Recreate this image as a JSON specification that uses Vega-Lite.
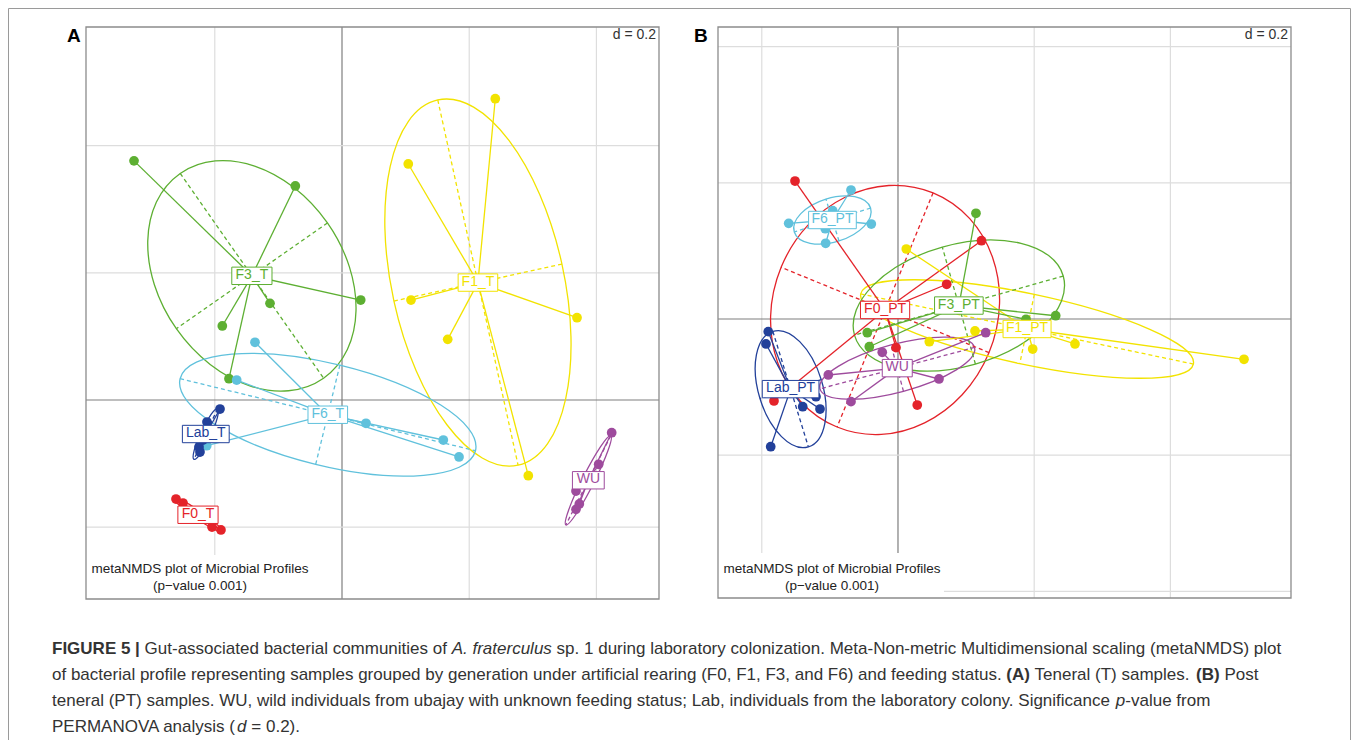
{
"$schema":"https://vega.github.io/schema/vega-lite/v6.json",
"width":1342,"height":732,
"autosize":{"type":"none"},
"padding":{"left":8,"top":8,"right":8,"bottom":0},
"background":"white",
"config":{"view":{"stroke":"#9a9a9a","strokeWidth":1},"font":"Liberation Sans"},
"datasets":{
"pointsA":[
{"group":"F3_T","gen":"F3","x":-0.327,"y":0.376},{"group":"F3_T","gen":"F3","x":-0.0734,"y":0.3365},{"group":"F3_T","gen":"F3","x":0.0294,"y":0.1572},{"group":"F3_T","gen":"F3","x":-0.1132,"y":0.152},{"group":"F3_T","gen":"F3","x":-0.1882,"y":0.1164},{"group":"F3_T","gen":"F3","x":-0.1777,"y":0.0335},
{"group":"F1_T","gen":"F1","x":0.1042,"y":0.3711},{"group":"F1_T","gen":"F1","x":0.241,"y":0.4737},{"group":"F1_T","gen":"F1","x":0.1085,"y":0.1572},{"group":"F1_T","gen":"F1","x":0.3695,"y":0.1294},{"group":"F1_T","gen":"F1","x":0.1662,"y":0.0954},{"group":"F1_T","gen":"F1","x":0.2929,"y":-0.119},
{"group":"F6_T","gen":"F6","x":-0.1368,"y":0.0907},{"group":"F6_T","gen":"F6","x":-0.1656,"y":0.0314},{"group":"F6_T","gen":"F6","x":0.0377,"y":-0.0366},{"group":"F6_T","gen":"F6","x":0.1593,"y":-0.0629},{"group":"F6_T","gen":"F6","x":0.184,"y":-0.0896},{"group":"F6_T","gen":"F6","x":-0.2127,"y":-0.0719},
{"group":"Lab_T","gen":"Lab","x":-0.1918,"y":-0.0142},{"group":"Lab_T","gen":"Lab","x":-0.2123,"y":-0.0346},{"group":"Lab_T","gen":"Lab","x":-0.2186,"y":-0.0629},{"group":"Lab_T","gen":"Lab","x":-0.2248,"y":-0.0739},{"group":"Lab_T","gen":"Lab","x":-0.2233,"y":-0.0818},
{"group":"F0_T","gen":"F0","x":-0.261,"y":-0.1557},{"group":"F0_T","gen":"F0","x":-0.25,"y":-0.162},{"group":"F0_T","gen":"F0","x":-0.2044,"y":-0.1997},{"group":"F0_T","gen":"F0","x":-0.1903,"y":-0.2044},
{"group":"WU","gen":"WU","x":0.424,"y":-0.0514},{"group":"WU","gen":"WU","x":0.4036,"y":-0.1011},{"group":"WU","gen":"WU","x":0.3679,"y":-0.1431},{"group":"WU","gen":"WU","x":0.3731,"y":-0.1635},{"group":"WU","gen":"WU","x":0.3679,"y":-0.1719}
],
"pointsB":[
{"group":"F0_PT","gen":"F0","x":-0.1512,"y":0.2026},{"group":"F0_PT","gen":"F0","x":0.1226,"y":0.115},{"group":"F0_PT","gen":"F0","x":0.0715,"y":0.051},{"group":"F0_PT","gen":"F0","x":-0.0029,"y":-0.0421},{"group":"F0_PT","gen":"F0","x":0.0283,"y":-0.1263},{"group":"F0_PT","gen":"F0","x":-0.1821,"y":-0.1204},
{"group":"F1_PT","gen":"F1","x":0.0122,"y":0.1028},{"group":"F1_PT","gen":"F1","x":0.1131,"y":-0.0176},{"group":"F1_PT","gen":"F1","x":0.046,"y":-0.0333},{"group":"F1_PT","gen":"F1","x":0.1978,"y":-0.0441},{"group":"F1_PT","gen":"F1","x":0.2599,"y":-0.0367},{"group":"F1_PT","gen":"F1","x":0.5081,"y":-0.0592},
{"group":"F3_PT","gen":"F3","x":0.1145,"y":0.1552},{"group":"F3_PT","gen":"F3","x":0.2316,"y":0.0048},{"group":"F3_PT","gen":"F3","x":0.188,"y":-0.0004},{"group":"F3_PT","gen":"F3","x":-0.0451,"y":-0.0201},{"group":"F3_PT","gen":"F3","x":-0.0421,"y":-0.0407},
{"group":"F6_PT","gen":"F6","x":-0.069,"y":0.1894},{"group":"F6_PT","gen":"F6","x":-0.1605,"y":0.1405},{"group":"F6_PT","gen":"F6","x":-0.0392,"y":0.1395},{"group":"F6_PT","gen":"F6","x":-0.0959,"y":0.159},{"group":"F6_PT","gen":"F6","x":-0.1068,"y":0.1326},{"group":"F6_PT","gen":"F6","x":-0.1062,"y":0.1112},
{"group":"Lab_PT","gen":"Lab","x":-0.1905,"y":-0.0186},{"group":"Lab_PT","gen":"Lab","x":-0.1938,"y":-0.0367},{"group":"Lab_PT","gen":"Lab","x":-0.1204,"y":-0.1141},{"group":"Lab_PT","gen":"Lab","x":-0.1399,"y":-0.1288},{"group":"Lab_PT","gen":"Lab","x":-0.1145,"y":-0.1322},{"group":"Lab_PT","gen":"Lab","x":-0.1869,"y":-0.1875},
{"group":"WU","gen":"WU","x":-0.0231,"y":-0.0489},{"group":"WU","gen":"WU","x":0.1288,"y":-0.0201},{"group":"WU","gen":"WU","x":0.0602,"y":-0.0881},{"group":"WU","gen":"WU","x":-0.1023,"y":-0.0822},{"group":"WU","gen":"WU","x":-0.069,"y":-0.1214}
],
"ellA":[
{"group":"F3_T","semi_major":0.1965,"semi_minor":0.1451,"tilt":125},
{"group":"F1_T","semi_major":0.294,"semi_minor":0.1352,"tilt":102.4},
{"group":"F6_T","semi_major":0.239,"semi_minor":0.0802,"tilt":166.3},
{"group":"Lab_T","semi_major":0.044,"semi_minor":0.0079,"tilt":65},
{"group":"F0_T","semi_major":0.047,"semi_minor":0.0063,"tilt":145.4},
{"group":"WU","semi_major":0.0786,"semi_minor":0.0094,"tilt":63.3}
],
"ellB":[
{"group":"F0_PT","semi_major":0.1858,"semi_minor":0.1649,"tilt":67.7},
{"group":"F3_PT","semi_major":0.1593,"semi_minor":0.0893,"tilt":15.8},
{"group":"F1_PT","semi_major":0.2496,"semi_minor":0.052,"tilt":168.1},
{"group":"Lab_PT","semi_major":0.0887,"semi_minor":0.0471,"tilt":107.1},
{"group":"WU","semi_major":0.1175,"semi_minor":0.0352,"tilt":15},
{"group":"F6_PT","semi_major":0.0587,"semi_minor":0.0323,"tilt":17.4}
],
"gridA":[{"dir":"v","at":-0.2},{"dir":"v","at":0.2},{"dir":"v","at":0.4},{"dir":"h","at":-0.2},{"dir":"h","at":0.2},{"dir":"h","at":0.4},{"dir":"v","at":0},{"dir":"h","at":0}],
"gridB":[{"dir":"v","at":-0.2},{"dir":"v","at":0.2},{"dir":"v","at":0.4},{"dir":"h","at":-0.4},{"dir":"h","at":-0.2},{"dir":"h","at":0.2},{"dir":"h","at":0.4},{"dir":"v","at":0},{"dir":"h","at":0}],
"caption":[
{"line":1,"seg":"1a","text":"FIGURE 5 |"},
{"line":1,"seg":"1b","text":"Gut-associated bacterial communities of"},
{"line":1,"seg":"1c","text":"A. fraterculus"},
{"line":1,"seg":"1d","text":"sp. 1 during laboratory colonization. Meta-Non-metric Multidimensional scaling (metaNMDS) plot"},
{"line":2,"seg":"2a","text":"of bacterial profile representing samples grouped by generation under artificial rearing (F0, F1, F3, and F6) and feeding status."},
{"line":2,"seg":"2b","text":"(A)"},
{"line":2,"seg":"2c","text":"Teneral (T) samples."},
{"line":2,"seg":"2d","text":"(B)"},
{"line":2,"seg":"2e","text":"Post"},
{"line":3,"seg":"3a","text":"teneral (PT) samples. WU, wild individuals from ubajay with unknown feeding status; Lab, individuals from the laboratory colony. Significance"},
{"line":3,"seg":"3b","text":"p"},
{"line":3,"seg":"3c","text":"-value from"},
{"line":4,"seg":"4a","text":"PERMANOVA analysis ("},
{"line":4,"seg":"4b","text":"d"},
{"line":4,"seg":"4c","text":"= 0.2)."}
]
},
"layer":[
{
"layer":[
{"data":{"name":"gridA"},"transform":[{"filter":"datum.dir==='v'"}],"mark":{"type":"rule","strokeWidth":1.2},
 "encoding":{"x":{"field":"at","type":"quantitative","scale":{"domain":[-0.4025,0.4984],"range":[78,651],"nice":false,"zero":false},"axis":null},
 "y":{"datum":-0.3129,"type":"quantitative","scale":{"domain":[-0.3129,0.5865],"range":[591,19],"nice":false,"zero":false},"axis":null},"y2":{"datum":0.5865},
 "color":{"condition":{"test":"datum.at===0","value":"#7f7f7f"},"value":"#dddddd"}}},
{"data":{"name":"gridA"},"transform":[{"filter":"datum.dir==='h'"}],"mark":{"type":"rule","strokeWidth":1.2},
 "encoding":{"y":{"field":"at","type":"quantitative","scale":{"domain":[-0.3129,0.5865],"range":[591,19],"nice":false,"zero":false},"axis":null},
 "x":{"datum":-0.4025,"type":"quantitative","scale":{"domain":[-0.4025,0.4984],"range":[78,651],"nice":false,"zero":false},"axis":null},"x2":{"datum":0.4984},
 "color":{"condition":{"test":"datum.at===0","value":"#7f7f7f"},"value":"#dddddd"}}},
{"data":{"values":[{}]},"mark":{"type":"rect","fill":"white"},
 "encoding":{"x":{"datum":-0.4025,"type":"quantitative","scale":{"domain":[-0.4025,0.4984],"range":[78,651],"nice":false,"zero":false},"axis":null},"x2":{"datum":-0.0346},
 "y":{"datum":-0.3129,"type":"quantitative","scale":{"domain":[-0.3129,0.5865],"range":[591,19],"nice":false,"zero":false},"axis":null},"y2":{"datum":-0.2437}}},
{"data":{"values":[{}]},"mark":{"type":"rect","filled":false,"stroke":"#8c8c8c","strokeWidth":1.3},
 "encoding":{"x":{"datum":-0.4025,"type":"quantitative","scale":{"domain":[-0.4025,0.4984],"range":[78,651],"nice":false,"zero":false},"axis":null},"x2":{"datum":0.4984},
 "y":{"datum":-0.3129,"type":"quantitative","scale":{"domain":[-0.3129,0.5865],"range":[591,19],"nice":false,"zero":false},"axis":null},"y2":{"datum":0.5865}}},
{"data":{"values":[{"note":"metaNMDS plot of Microbial Profiles\n(p−value 0.001)"}]},"mark":{"type":"text","lineBreak":"\n","lineHeight":17,"align":"center","baseline":"middle","fontSize":13.5,"color":"#222222"},
 "encoding":{"x":{"datum":-0.2233,"type":"quantitative","scale":{"domain":[-0.4025,0.4984],"range":[78,651],"nice":false,"zero":false},"axis":null},
 "y":{"datum":-0.2665,"type":"quantitative","scale":{"domain":[-0.3129,0.5865],"range":[591,19],"nice":false,"zero":false},"axis":null},"text":{"field":"note"}}},
{"data":{"values":[{"note":"d = 0.2"}]},"mark":{"type":"text","align":"right","baseline":"middle","fontSize":14,"color":"#333333"},
 "encoding":{"x":{"datum":0.4937,"type":"quantitative","scale":{"domain":[-0.4025,0.4984],"range":[78,651],"nice":false,"zero":false},"axis":null},
 "y":{"datum":0.5739,"type":"quantitative","scale":{"domain":[-0.3129,0.5865],"range":[591,19],"nice":false,"zero":false},"axis":null},"text":{"field":"note"}}},
{"data":{"values":[{"panel":"A"}]},"mark":{"type":"text","align":"center","baseline":"middle","fontSize":19,"fontWeight":"bold","color":"#000000"},
 "encoding":{"x":{"datum":-0.4214,"type":"quantitative","scale":{"domain":[-0.4025,0.4984],"range":[78,651],"nice":false,"zero":false},"axis":null},
 "y":{"datum":0.5723,"type":"quantitative","scale":{"domain":[-0.3129,0.5865],"range":[591,19],"nice":false,"zero":false},"axis":null},"text":{"field":"panel"}}},
{"data":{"name":"pointsA"},
 "transform":[{"aggregate":[{"op":"mean","field":"x","as":"x"},{"op":"mean","field":"y","as":"y"}],"groupby":["group","gen"]},
  {"lookup":"group","from":{"data":{"name":"ellA"},"key":"group","fields":["semi_major","tilt"]}}],
 "mark":{"type":"point","filled":false,"strokeWidth":1.3,"opacity":1},
 "encoding":{"x":{"field":"x","type":"quantitative","scale":{"domain":[-0.4025,0.4984],"range":[78,651],"nice":false,"zero":false},"axis":null},
 "y":{"field":"y","type":"quantitative","scale":{"domain":[-0.3129,0.5865],"range":[591,19],"nice":false,"zero":false},"axis":null},
 "shape":{"field":"group","type":"nominal","legend":null,"scale":{"domain":["F3_T","F1_T","F6_T","Lab_T","F0_T","WU"],"range":[
  "M1 0C1 0.408 0.552 0.738 0 0.738C-0.552 0.738 -1 0.408 -1 0C-1 -0.408 -0.552 -0.738 0 -0.738C0.552 -0.738 1 -0.408 1 0Z",
  "M1 0C1 0.254 0.552 0.46 0 0.46C-0.552 0.46 -1 0.254 -1 0C-1 -0.254 -0.552 -0.46 0 -0.46C0.552 -0.46 1 -0.254 1 0Z",
  "M1 0C1 0.186 0.552 0.336 0 0.336C-0.552 0.336 -1 0.186 -1 0C-1 -0.186 -0.552 -0.336 0 -0.336C0.552 -0.336 1 -0.186 1 0Z",
  "M1 0C1 0.099 0.552 0.18 0 0.18C-0.552 0.18 -1 0.099 -1 0C-1 -0.099 -0.552 -0.18 0 -0.18C0.552 -0.18 1 -0.099 1 0Z",
  "M1 0C1 0.074 0.552 0.134 0 0.134C-0.552 0.134 -1 0.074 -1 0C-1 -0.074 -0.552 -0.134 0 -0.134C0.552 -0.134 1 -0.074 1 0Z",
  "M1 0C1 0.066 0.552 0.12 0 0.12C-0.552 0.12 -1 0.066 -1 0C-1 -0.066 -0.552 -0.12 0 -0.12C0.552 -0.12 1 -0.066 1 0Z"]}},
 "size":{"field":"semi_major","type":"quantitative","legend":null,"scale":{"type":"pow","exponent":2,"domain":[0,1],"range":[0,1617984]}},
 "angle":{"field":"tilt","type":"quantitative","legend":null,"scale":{"domain":[0,180],"range":[180,0]}},
 "color":{"field":"gen","type":"nominal","legend":null,"scale":{"domain":["F0","F1","F3","F6","Lab","WU"],"range":["#E4232A","#F2E300","#5DAF32","#60C1DC","#22409A","#9E4B9D"]}}}},
{"data":{"name":"pointsA"},
 "transform":[{"aggregate":[{"op":"mean","field":"x","as":"x"},{"op":"mean","field":"y","as":"y"}],"groupby":["group","gen"]},
  {"lookup":"group","from":{"data":{"name":"ellA"},"key":"group","fields":["semi_major","tilt"]}}],
 "mark":{"type":"point","filled":false,"strokeWidth":1.3,"opacity":1,"strokeDash":[4,3]},
 "encoding":{"x":{"field":"x","type":"quantitative","scale":{"domain":[-0.4025,0.4984],"range":[78,651],"nice":false,"zero":false},"axis":null},
 "y":{"field":"y","type":"quantitative","scale":{"domain":[-0.3129,0.5865],"range":[591,19],"nice":false,"zero":false},"axis":null},
 "shape":{"field":"group","type":"nominal","legend":null,"scale":{"domain":["F3_T","F1_T","F6_T","Lab_T","F0_T","WU"],"range":[
  "M-1 0L1 0M0 -0.738L0 0.738","M-1 0L1 0M0 -0.46L0 0.46","M-1 0L1 0M0 -0.336L0 0.336","M-1 0L1 0M0 -0.18L0 0.18","M-1 0L1 0M0 -0.134L0 0.134","M-1 0L1 0M0 -0.12L0 0.12"]}},
 "size":{"field":"semi_major","type":"quantitative","legend":null,"scale":{"type":"pow","exponent":2,"domain":[0,1],"range":[0,1617984]}},
 "angle":{"field":"tilt","type":"quantitative","legend":null,"scale":{"domain":[0,180],"range":[180,0]}},
 "color":{"field":"gen","type":"nominal","legend":null,"scale":{"domain":["F0","F1","F3","F6","Lab","WU"],"range":["#E4232A","#F2E300","#5DAF32","#60C1DC","#22409A","#9E4B9D"]}}}},
{"data":{"name":"pointsA"},
 "transform":[{"joinaggregate":[{"op":"mean","field":"x","as":"cx"},{"op":"mean","field":"y","as":"cy"}],"groupby":["group"]}],
 "mark":{"type":"rule","strokeWidth":1.3},
 "encoding":{"x":{"field":"x","type":"quantitative","scale":{"domain":[-0.4025,0.4984],"range":[78,651],"nice":false,"zero":false},"axis":null},
 "y":{"field":"y","type":"quantitative","scale":{"domain":[-0.3129,0.5865],"range":[591,19],"nice":false,"zero":false},"axis":null},
 "x2":{"field":"cx"},"y2":{"field":"cy"},
 "color":{"field":"gen","type":"nominal","legend":null,"scale":{"domain":["F0","F1","F3","F6","Lab","WU"],"range":["#E4232A","#F2E300","#5DAF32","#60C1DC","#22409A","#9E4B9D"]}}}},
{"data":{"name":"pointsA"},
 "mark":{"type":"circle","size":95,"opacity":1},
 "encoding":{"x":{"field":"x","type":"quantitative","scale":{"domain":[-0.4025,0.4984],"range":[78,651],"nice":false,"zero":false},"axis":null},
 "y":{"field":"y","type":"quantitative","scale":{"domain":[-0.3129,0.5865],"range":[591,19],"nice":false,"zero":false},"axis":null},
 "color":{"field":"gen","type":"nominal","legend":null,"scale":{"domain":["F0","F1","F3","F6","Lab","WU"],"range":["#E4232A","#F2E300","#5DAF32","#60C1DC","#22409A","#9E4B9D"]}}}},
{"data":{"name":"pointsA"},
 "transform":[{"aggregate":[{"op":"mean","field":"x","as":"x"},{"op":"mean","field":"y","as":"y"}],"groupby":["group","gen"]}],
 "mark":{"type":"point","filled":true,"fill":"white","strokeWidth":1,"size":3600,"opacity":1},
 "encoding":{"x":{"field":"x","type":"quantitative","scale":{"domain":[-0.4025,0.4984],"range":[78,651],"nice":false,"zero":false},"axis":null},
 "y":{"field":"y","type":"quantitative","scale":{"domain":[-0.3129,0.5865],"range":[591,19],"nice":false,"zero":false},"axis":null},
 "shape":{"field":"group","type":"nominal","legend":null,"scale":{"domain":["F3_T","F1_T","F6_T","Lab_T","F0_T","WU"],"range":[
  "M-0.67 -0.29L0.67 -0.29L0.67 0.29L-0.67 0.29Z","M-0.66 -0.29L0.66 -0.29L0.66 0.29L-0.66 0.29Z","M-0.66 -0.29L0.66 -0.29L0.66 0.29L-0.66 0.29Z","M-0.78 -0.29L0.78 -0.29L0.78 0.29L-0.78 0.29Z","M-0.67 -0.29L0.67 -0.29L0.67 0.29L-0.67 0.29Z","M-0.53 -0.29L0.53 -0.29L0.53 0.29L-0.53 0.29Z"]}},
 "stroke":{"field":"gen","type":"nominal","legend":null,"scale":{"domain":["F0","F1","F3","F6","Lab","WU"],"range":["#E4232A","#F2E300","#5DAF32","#60C1DC","#22409A","#9E4B9D"]}}}},
{"data":{"name":"pointsA"},
 "transform":[{"aggregate":[{"op":"mean","field":"x","as":"x"},{"op":"mean","field":"y","as":"y"}],"groupby":["group","gen"]}],
 "mark":{"type":"text","align":"center","baseline":"middle","fontSize":14,"dy":-1},
 "encoding":{"x":{"field":"x","type":"quantitative","scale":{"domain":[-0.4025,0.4984],"range":[78,651],"nice":false,"zero":false},"axis":null},
 "y":{"field":"y","type":"quantitative","scale":{"domain":[-0.3129,0.5865],"range":[591,19],"nice":false,"zero":false},"axis":null},
 "text":{"field":"group"},
 "color":{"field":"gen","type":"nominal","legend":null,"scale":{"domain":["F0","F1","F3","F6","Lab","WU"],"range":["#E4232A","#F2E300","#5DAF32","#60C1DC","#22409A","#9E4B9D"]}}}}
],
"resolve":{"scale":{"shape":"independent"}}
},
{
"layer":[
{"data":{"name":"gridB"},"transform":[{"filter":"datum.dir==='v'"}],"mark":{"type":"rule","strokeWidth":1.2},
 "encoding":{"x":{"field":"at","type":"quantitative","scale":{"domain":[-0.2643,0.5771],"range":[710,1283],"nice":false,"zero":false},"axis":null},
 "y":{"datum":-0.4097,"type":"quantitative","scale":{"domain":[-0.4097,0.4288],"range":[590,19],"nice":false,"zero":false},"axis":null},"y2":{"datum":0.4288},
 "color":{"condition":{"test":"datum.at===0","value":"#7f7f7f"},"value":"#dddddd"}}},
{"data":{"name":"gridB"},"transform":[{"filter":"datum.dir==='h'"}],"mark":{"type":"rule","strokeWidth":1.2},
 "encoding":{"y":{"field":"at","type":"quantitative","scale":{"domain":[-0.4097,0.4288],"range":[590,19],"nice":false,"zero":false},"axis":null},
 "x":{"datum":-0.2643,"type":"quantitative","scale":{"domain":[-0.2643,0.5771],"range":[710,1283],"nice":false,"zero":false},"axis":null},"x2":{"datum":0.5771},
 "color":{"condition":{"test":"datum.at===0","value":"#7f7f7f"},"value":"#dddddd"}}},
{"data":{"values":[{}]},"mark":{"type":"rect","fill":"white"},
 "encoding":{"x":{"datum":-0.2643,"type":"quantitative","scale":{"domain":[-0.2643,0.5771],"range":[710,1283],"nice":false,"zero":false},"axis":null},"x2":{"datum":0.0675},
 "y":{"datum":-0.4097,"type":"quantitative","scale":{"domain":[-0.4097,0.4288],"range":[590,19],"nice":false,"zero":false},"axis":null},"y2":{"datum":-0.3436}}},
{"data":{"values":[{}]},"mark":{"type":"rect","filled":false,"stroke":"#8c8c8c","strokeWidth":1.3},
 "encoding":{"x":{"datum":-0.2643,"type":"quantitative","scale":{"domain":[-0.2643,0.5771],"range":[710,1283],"nice":false,"zero":false},"axis":null},"x2":{"datum":0.5771},
 "y":{"datum":-0.4097,"type":"quantitative","scale":{"domain":[-0.4097,0.4288],"range":[590,19],"nice":false,"zero":false},"axis":null},"y2":{"datum":0.4288}}},
{"data":{"values":[{"note":"metaNMDS plot of Microbial Profiles\n(p−value 0.001)"}]},"mark":{"type":"text","lineBreak":"\n","lineHeight":17,"align":"center","baseline":"middle","fontSize":13.5,"color":"#222222"},
 "encoding":{"x":{"datum":-0.0969,"type":"quantitative","scale":{"domain":[-0.2643,0.5771],"range":[710,1283],"nice":false,"zero":false},"axis":null},
 "y":{"datum":-0.3678,"type":"quantitative","scale":{"domain":[-0.4097,0.4288],"range":[590,19],"nice":false,"zero":false},"axis":null},"text":{"field":"note"}}},
{"data":{"values":[{"note":"d = 0.2"}]},"mark":{"type":"text","align":"right","baseline":"middle","fontSize":14,"color":"#333333"},
 "encoding":{"x":{"datum":0.5727,"type":"quantitative","scale":{"domain":[-0.2643,0.5771],"range":[710,1283],"nice":false,"zero":false},"axis":null},
 "y":{"datum":0.417,"type":"quantitative","scale":{"domain":[-0.4097,0.4288],"range":[590,19],"nice":false,"zero":false},"axis":null},"text":{"field":"note"}}},
{"data":{"values":[{"panel":"B"}]},"mark":{"type":"text","align":"center","baseline":"middle","fontSize":19,"fontWeight":"bold","color":"#000000"},
 "encoding":{"x":{"datum":-0.2893,"type":"quantitative","scale":{"domain":[-0.2643,0.5771],"range":[710,1283],"nice":false,"zero":false},"axis":null},
 "y":{"datum":0.4156,"type":"quantitative","scale":{"domain":[-0.4097,0.4288],"range":[590,19],"nice":false,"zero":false},"axis":null},"text":{"field":"panel"}}},
{"data":{"name":"pointsB"},
 "transform":[{"aggregate":[{"op":"mean","field":"x","as":"x"},{"op":"mean","field":"y","as":"y"}],"groupby":["group","gen"]},
  {"lookup":"group","from":{"data":{"name":"ellB"},"key":"group","fields":["semi_major","tilt"]}}],
 "mark":{"type":"point","filled":false,"strokeWidth":1.3,"opacity":1},
 "encoding":{"x":{"field":"x","type":"quantitative","scale":{"domain":[-0.2643,0.5771],"range":[710,1283],"nice":false,"zero":false},"axis":null},
 "y":{"field":"y","type":"quantitative","scale":{"domain":[-0.4097,0.4288],"range":[590,19],"nice":false,"zero":false},"axis":null},
 "shape":{"field":"group","type":"nominal","legend":null,"scale":{"domain":["F0_PT","F3_PT","F1_PT","Lab_PT","WU","F6_PT"],"range":[
  "M1 0C1 0.49 0.552 0.888 0 0.888C-0.552 0.888 -1 0.49 -1 0C-1 -0.49 -0.552 -0.888 0 -0.888C0.552 -0.888 1 -0.49 1 0Z",
  "M1 0C1 0.309 0.552 0.56 0 0.56C-0.552 0.56 -1 0.309 -1 0C-1 -0.309 -0.552 -0.56 0 -0.56C0.552 -0.56 1 -0.309 1 0Z",
  "M1 0C1 0.115 0.552 0.208 0 0.208C-0.552 0.208 -1 0.115 -1 0C-1 -0.115 -0.552 -0.208 0 -0.208C0.552 -0.208 1 -0.115 1 0Z",
  "M1 0C1 0.293 0.552 0.531 0 0.531C-0.552 0.531 -1 0.293 -1 0C-1 -0.293 -0.552 -0.531 0 -0.531C0.552 -0.531 1 -0.293 1 0Z",
  "M1 0C1 0.166 0.552 0.3 0 0.3C-0.552 0.3 -1 0.166 -1 0C-1 -0.166 -0.552 -0.3 0 -0.3C0.552 -0.3 1 -0.166 1 0Z",
  "M1 0C1 0.304 0.552 0.55 0 0.55C-0.552 0.55 -1 0.304 -1 0C-1 -0.304 -0.552 -0.55 0 -0.55C0.552 -0.55 1 -0.304 1 0Z"]}},
 "size":{"field":"semi_major","type":"quantitative","legend":null,"scale":{"type":"pow","exponent":2,"domain":[0,1],"range":[0,1855044]}},
 "angle":{"field":"tilt","type":"quantitative","legend":null,"scale":{"domain":[0,180],"range":[180,0]}},
 "color":{"field":"gen","type":"nominal","legend":null,"scale":{"domain":["F0","F1","F3","F6","Lab","WU"],"range":["#E4232A","#F2E300","#5DAF32","#60C1DC","#22409A","#9E4B9D"]}}}},
{"data":{"name":"pointsB"},
 "transform":[{"aggregate":[{"op":"mean","field":"x","as":"x"},{"op":"mean","field":"y","as":"y"}],"groupby":["group","gen"]},
  {"lookup":"group","from":{"data":{"name":"ellB"},"key":"group","fields":["semi_major","tilt"]}}],
 "mark":{"type":"point","filled":false,"strokeWidth":1.3,"opacity":1,"strokeDash":[4,3]},
 "encoding":{"x":{"field":"x","type":"quantitative","scale":{"domain":[-0.2643,0.5771],"range":[710,1283],"nice":false,"zero":false},"axis":null},
 "y":{"field":"y","type":"quantitative","scale":{"domain":[-0.4097,0.4288],"range":[590,19],"nice":false,"zero":false},"axis":null},
 "shape":{"field":"group","type":"nominal","legend":null,"scale":{"domain":["F0_PT","F3_PT","F1_PT","Lab_PT","WU","F6_PT"],"range":[
  "M-1 0L1 0M0 -0.888L0 0.888","M-1 0L1 0M0 -0.56L0 0.56","M-1 0L1 0M0 -0.208L0 0.208","M-1 0L1 0M0 -0.531L0 0.531","M-1 0L1 0M0 -0.3L0 0.3","M-1 0L1 0M0 -0.55L0 0.55"]}},
 "size":{"field":"semi_major","type":"quantitative","legend":null,"scale":{"type":"pow","exponent":2,"domain":[0,1],"range":[0,1855044]}},
 "angle":{"field":"tilt","type":"quantitative","legend":null,"scale":{"domain":[0,180],"range":[180,0]}},
 "color":{"field":"gen","type":"nominal","legend":null,"scale":{"domain":["F0","F1","F3","F6","Lab","WU"],"range":["#E4232A","#F2E300","#5DAF32","#60C1DC","#22409A","#9E4B9D"]}}}},
{"data":{"name":"pointsB"},
 "transform":[{"joinaggregate":[{"op":"mean","field":"x","as":"cx"},{"op":"mean","field":"y","as":"cy"}],"groupby":["group"]}],
 "mark":{"type":"rule","strokeWidth":1.3},
 "encoding":{"x":{"field":"x","type":"quantitative","scale":{"domain":[-0.2643,0.5771],"range":[710,1283],"nice":false,"zero":false},"axis":null},
 "y":{"field":"y","type":"quantitative","scale":{"domain":[-0.4097,0.4288],"range":[590,19],"nice":false,"zero":false},"axis":null},
 "x2":{"field":"cx"},"y2":{"field":"cy"},
 "color":{"field":"gen","type":"nominal","legend":null,"scale":{"domain":["F0","F1","F3","F6","Lab","WU"],"range":["#E4232A","#F2E300","#5DAF32","#60C1DC","#22409A","#9E4B9D"]}}}},
{"data":{"name":"pointsB"},
 "mark":{"type":"circle","size":95,"opacity":1},
 "encoding":{"x":{"field":"x","type":"quantitative","scale":{"domain":[-0.2643,0.5771],"range":[710,1283],"nice":false,"zero":false},"axis":null},
 "y":{"field":"y","type":"quantitative","scale":{"domain":[-0.4097,0.4288],"range":[590,19],"nice":false,"zero":false},"axis":null},
 "color":{"field":"gen","type":"nominal","legend":null,"scale":{"domain":["F0","F1","F3","F6","Lab","WU"],"range":["#E4232A","#F2E300","#5DAF32","#60C1DC","#22409A","#9E4B9D"]}}}},
{"data":{"name":"pointsB"},
 "transform":[{"aggregate":[{"op":"mean","field":"x","as":"x"},{"op":"mean","field":"y","as":"y"}],"groupby":["group","gen"]}],
 "mark":{"type":"point","filled":true,"fill":"white","strokeWidth":1,"size":3600,"opacity":1},
 "encoding":{"x":{"field":"x","type":"quantitative","scale":{"domain":[-0.2643,0.5771],"range":[710,1283],"nice":false,"zero":false},"axis":null},
 "y":{"field":"y","type":"quantitative","scale":{"domain":[-0.4097,0.4288],"range":[590,19],"nice":false,"zero":false},"axis":null},
 "shape":{"field":"group","type":"nominal","legend":null,"scale":{"domain":["F0_PT","F3_PT","F1_PT","Lab_PT","WU","F6_PT"],"range":[
  "M-0.82 -0.29L0.82 -0.29L0.82 0.29L-0.82 0.29Z","M-0.81 -0.29L0.81 -0.29L0.81 0.29L-0.81 0.29Z","M-0.8 -0.29L0.8 -0.29L0.8 0.29L-0.8 0.29Z","M-0.945 -0.29L0.945 -0.29L0.945 0.29L-0.945 0.29Z","M-0.5 -0.29L0.5 -0.29L0.5 0.29L-0.5 0.29Z","M-0.795 -0.29L0.795 -0.29L0.795 0.29L-0.795 0.29Z"]}},
 "stroke":{"field":"gen","type":"nominal","legend":null,"scale":{"domain":["F0","F1","F3","F6","Lab","WU"],"range":["#E4232A","#F2E300","#5DAF32","#60C1DC","#22409A","#9E4B9D"]}}}},
{"data":{"name":"pointsB"},
 "transform":[{"aggregate":[{"op":"mean","field":"x","as":"x"},{"op":"mean","field":"y","as":"y"}],"groupby":["group","gen"]}],
 "mark":{"type":"text","align":"center","baseline":"middle","fontSize":14,"dy":-1},
 "encoding":{"x":{"field":"x","type":"quantitative","scale":{"domain":[-0.2643,0.5771],"range":[710,1283],"nice":false,"zero":false},"axis":null},
 "y":{"field":"y","type":"quantitative","scale":{"domain":[-0.4097,0.4288],"range":[590,19],"nice":false,"zero":false},"axis":null},
 "text":{"field":"group"},
 "color":{"field":"gen","type":"nominal","legend":null,"scale":{"domain":["F0","F1","F3","F6","Lab","WU"],"range":["#E4232A","#F2E300","#5DAF32","#60C1DC","#22409A","#9E4B9D"]}}}}
],
"resolve":{"scale":{"shape":"independent"}}
},
{
"data":{"name":"caption"},
"encoding":{"x":{"datum":0,"type":"quantitative","scale":{"domain":[0,1],"range":[44,1282]},"axis":null},
 "y":{"field":"line","type":"quantitative","scale":{"domain":[1,4],"range":[641,719]},"axis":null},
 "text":{"field":"text"}},
"layer":[
{"transform":[{"filter":"datum.seg==='1a'"}],"mark":{"type":"text","align":"left","baseline":"middle","fontSize":17,"fontWeight":"bold","color":"#333333","dx":0}},
{"transform":[{"filter":"datum.seg==='2a'||datum.seg==='3a'||datum.seg==='4a'"}],"mark":{"type":"text","align":"left","baseline":"middle","fontSize":17,"color":"#333333","dx":0}},
{"transform":[{"filter":"datum.seg==='1b'"}],"mark":{"type":"text","align":"left","baseline":"middle","fontSize":17,"color":"#333333","dx":92.6}},
{"transform":[{"filter":"datum.seg==='1c'"}],"mark":{"type":"text","align":"left","baseline":"middle","fontSize":17,"fontStyle":"italic","color":"#333333","dx":399.7}},
{"transform":[{"filter":"datum.seg==='1d'"}],"mark":{"type":"text","align":"left","baseline":"middle","fontSize":17,"color":"#333333","dx":504.6}},
{"transform":[{"filter":"datum.seg==='2b'"}],"mark":{"type":"text","align":"left","baseline":"middle","fontSize":17,"fontWeight":"bold","color":"#333333","dx":954.3}},
{"transform":[{"filter":"datum.seg==='2c'"}],"mark":{"type":"text","align":"left","baseline":"middle","fontSize":17,"color":"#333333","dx":982.6}},
{"transform":[{"filter":"datum.seg==='2d'"}],"mark":{"type":"text","align":"left","baseline":"middle","fontSize":17,"fontWeight":"bold","color":"#333333","dx":1144.1}},
{"transform":[{"filter":"datum.seg==='2e'"}],"mark":{"type":"text","align":"left","baseline":"middle","fontSize":17,"color":"#333333","dx":1172.4}},
{"transform":[{"filter":"datum.seg==='3b'"}],"mark":{"type":"text","align":"left","baseline":"middle","fontSize":17,"fontStyle":"italic","color":"#333333","dx":1063.8}},
{"transform":[{"filter":"datum.seg==='3c'"}],"mark":{"type":"text","align":"left","baseline":"middle","fontSize":17,"color":"#333333","dx":1073.3}},
{"transform":[{"filter":"datum.seg==='4b'"}],"mark":{"type":"text","align":"left","baseline":"middle","fontSize":17,"fontStyle":"italic","color":"#333333","dx":185.1}},
{"transform":[{"filter":"datum.seg==='4c'"}],"mark":{"type":"text","align":"left","baseline":"middle","fontSize":17,"color":"#333333","dx":199.3}}
]
}
],
"resolve":{"scale":{"x":"independent","y":"independent","size":"independent","shape":"independent"}}
}
